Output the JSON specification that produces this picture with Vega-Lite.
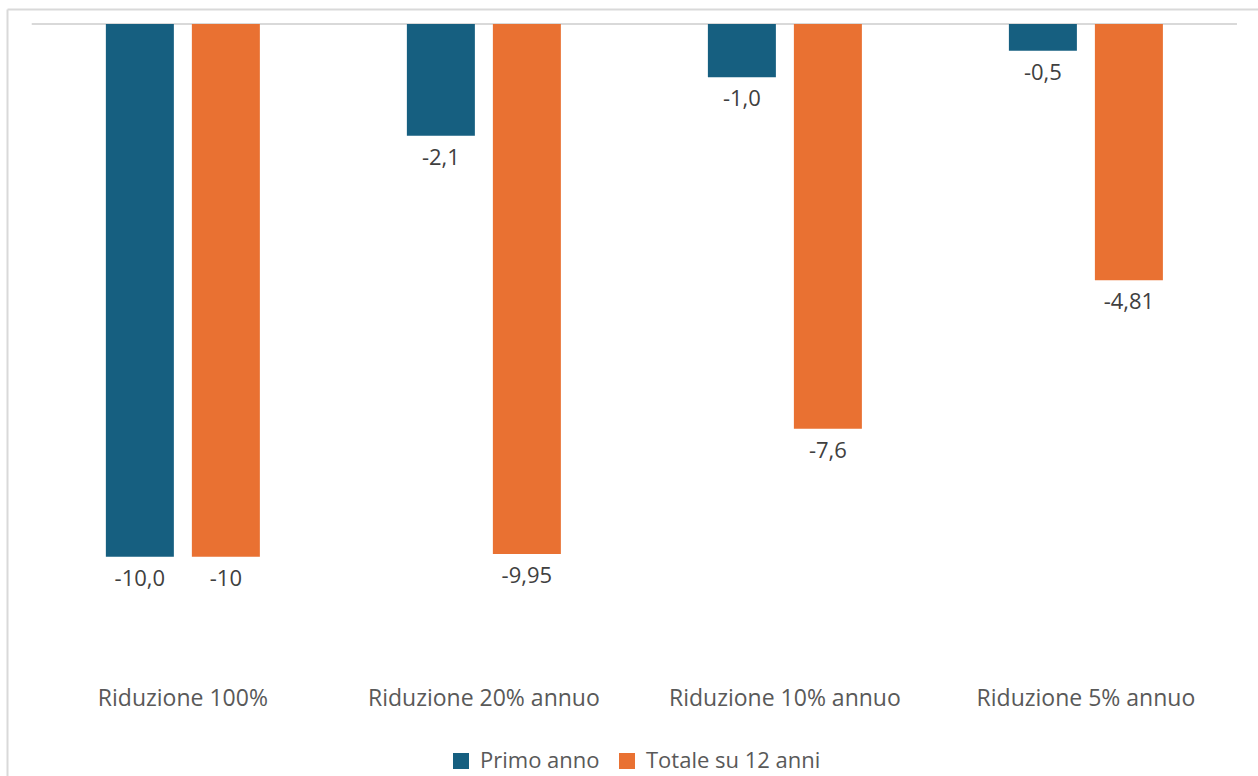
{
  "$schema": "https://vega.github.io/schema/vega-lite/v6.json",
  "width": 1251,
  "height": 767,
  "autosize": "none",
  "padding": {"left": 7, "top": 9, "right": 0, "bottom": 0},
  "background": "white",
  "data": {
    "values": [
      {"cat": "Riduzione 100%", "serie": "Primo anno", "value": -10.0, "label": "-10,0"},
      {"cat": "Riduzione 100%", "serie": "Totale su 12 anni", "value": -10, "label": "-10"},
      {"cat": "Riduzione 20% annuo", "serie": "Primo anno", "value": -2.1, "label": "-2,1"},
      {"cat": "Riduzione 20% annuo", "serie": "Totale su 12 anni", "value": -9.95, "label": "-9,95"},
      {"cat": "Riduzione 10% annuo", "serie": "Primo anno", "value": -1.0, "label": "-1,0"},
      {"cat": "Riduzione 10% annuo", "serie": "Totale su 12 anni", "value": -7.6, "label": "-7,6"},
      {"cat": "Riduzione 5% annuo", "serie": "Primo anno", "value": -0.5, "label": "-0,5"},
      {"cat": "Riduzione 5% annuo", "serie": "Totale su 12 anni", "value": -4.81, "label": "-4,81"}
    ]
  },
  "encoding": {
    "x": {
      "field": "cat",
      "type": "nominal",
      "sort": null,
      "scale": {"paddingInner": 0, "paddingOuter": 0.078, "align": 0.54}
    },
    "y": {
      "type": "quantitative",
      "scale": {"domain": [-14.117, 0.2816], "nice": false, "zero": false}
    }
  },
  "layer": [
    {
      "mark": {"type": "tick", "color": "#d9d9d9", "size": 302, "thickness": 2, "opacity": 1},
      "encoding": {
        "x": {
          "field": "cat",
          "type": "nominal",
          "sort": null,
          "axis": {"orient": "top", "domain": true, "domainColor": "#d9d9d9", "domainWidth": 2, "labels": false, "ticks": false, "title": null, "grid": false}
        },
        "y": {"datum": 0, "type": "quantitative"}
      }
    },
    {
      "mark": {"type": "bar"},
      "encoding": {
        "x": {
          "field": "cat",
          "type": "nominal",
          "sort": null,
          "axis": {
            "orient": "bottom",
            "domain": false,
            "ticks": false,
            "tickSize": 0,
            "grid": false,
            "title": null,
            "labelAngle": 0,
            "offset": -71,
            "labelPadding": 0,
            "labelBaseline": "alphabetic",
            "labelFont": "Open Sans",
            "labelFontSize": 23,
            "labelColor": "#595959",
            "labelLimit": 400
          }
        },
        "xOffset": {
          "field": "serie",
          "type": "nominal",
          "scale": {"paddingInner": 0.2093, "paddingOuter": 0.8547}
        },
        "y": {"field": "value", "type": "quantitative", "title": null},
        "color": {
          "field": "serie",
          "type": "nominal",
          "scale": {"domain": ["Primo anno", "Totale su 12 anni"], "range": ["#165f80", "#e97132"]},
          "legend": {
            "title": null,
            "orient": "none",
            "direction": "horizontal",
            "legendX": 443,
            "legendY": 741,
            "symbolType": "square",
            "symbolSize": 256,
            "symbolStrokeWidth": 0,
            "labelFont": "Open Sans",
            "labelFontSize": 22,
            "labelColor": "#595959",
            "labelOffset": 8,
            "columnPadding": 16,
            "labelLimit": 400
          }
        }
      }
    },
    {
      "mark": {"type": "text", "baseline": "middle", "align": "center", "dy": 22, "font": "Open Sans", "fontSize": 22, "color": "#404040"},
      "encoding": {
        "x": {"field": "cat", "type": "nominal", "sort": null, "axis": null},
        "xOffset": {"field": "serie", "type": "nominal"},
        "y": {"field": "value", "type": "quantitative", "title": null},
        "text": {"field": "label", "type": "nominal"}
      }
    }
  ],
  "resolve": {"axis": {"x": "independent"}},
  "config": {
    "view": {"stroke": null},
    "axisY": {"domain": true, "domainColor": "#d9d9d9", "domainWidth": 2, "labels": false, "ticks": false, "grid": false, "title": null}
  }
}
